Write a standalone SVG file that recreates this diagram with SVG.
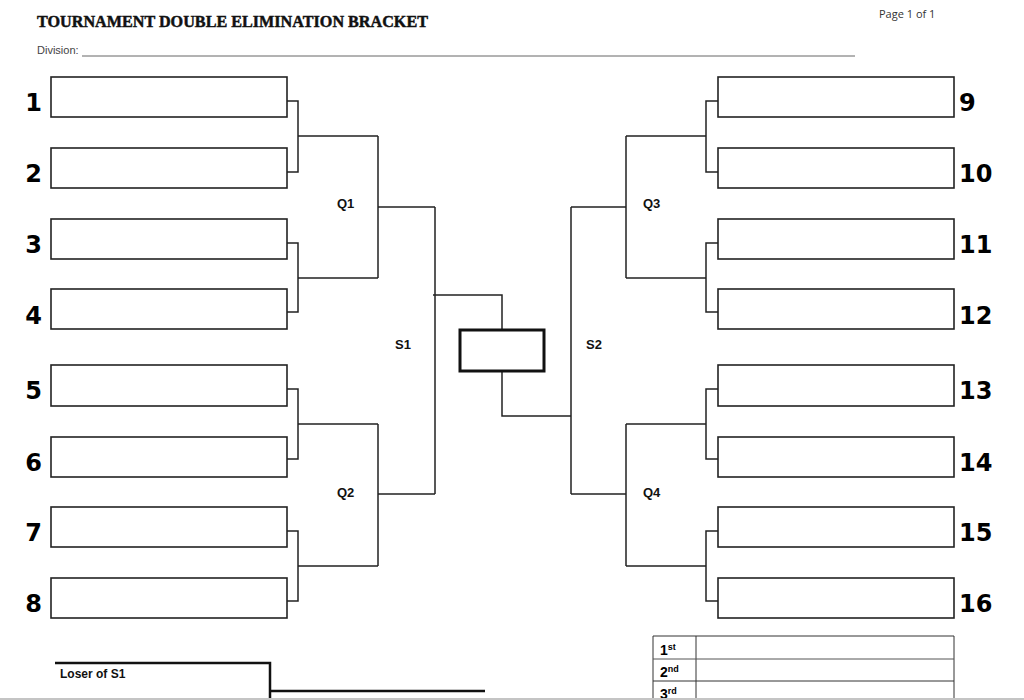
<svg xmlns="http://www.w3.org/2000/svg" width="1024" height="700" viewBox="0 0 1024 700">
<style>
.box{fill:#fff;stroke:#222;stroke-width:1.6}
.ln{fill:none;stroke:#222;stroke-width:1.5}
.num{font-family:"DejaVu Sans","Liberation Sans",Arial,sans-serif;font-weight:bold;font-size:24px;fill:#000}
.lbl{font-family:"Liberation Sans",Arial,sans-serif;font-weight:bold;font-size:13px;fill:#111}
.place{font-family:"Liberation Sans",Arial,sans-serif;font-weight:bold;font-size:14px;fill:#000}
.sup{font-size:9px}
</style>
<rect width="1024" height="700" fill="#fff"/>
<g id="header">
<text x="37" y="27" font-family="Liberation Serif,serif" font-weight="bold" font-size="17" textLength="391" lengthAdjust="spacingAndGlyphs" fill="#111" stroke="#111" stroke-width="0.5">TOURNAMENT DOUBLE ELIMINATION BRACKET</text>
<text x="37" y="54" font-family="Liberation Sans,Arial,sans-serif" font-size="11" fill="#444">Division:</text>
<line x1="82" y1="56" x2="855" y2="56" stroke="#666" stroke-width="1"/>
<text x="879" y="18" font-family="Open Sans,Liberation Sans,sans-serif" font-size="11" fill="#333">Page 1 of 1</text>
</g>
<g id="connectors">
<path class="ln" d="M287 101H298V172H287M298 136H378"/>
<path class="ln" d="M287 243H298V312H287M298 278H378"/>
<path class="ln" d="M287 389H298V459H287M298 424H378"/>
<path class="ln" d="M287 531H298V601H287M298 566H378"/>
<path class="ln" d="M378 136V278M378 207H435"/>
<path class="ln" d="M378 424V566M378 494H435"/>
<path class="ln" d="M435 207V494M433 295H502V329"/>
<path class="ln" d="M718 101H706V172H718M706 136H626"/>
<path class="ln" d="M718 243H706V312H718M706 278H626"/>
<path class="ln" d="M718 389H706V459H718M706 424H626"/>
<path class="ln" d="M718 531H706V601H718M706 566H626"/>
<path class="ln" d="M626 136V278M626 207H571"/>
<path class="ln" d="M626 424V566M626 494H571"/>
<path class="ln" d="M571 207V494M502 371V416H571"/>
</g>
<g id="final"><rect x="460" y="330" width="84" height="41" fill="#fff" stroke="#111" stroke-width="3"/></g>
<g id="left-entries">
<g id="e1"><rect class="box" x="51" y="77" width="236" height="40"/><text class="num" x="42" y="111" text-anchor="end">1</text></g>
<g id="e2"><rect class="box" x="51" y="148" width="236" height="40"/><text class="num" x="42" y="182" text-anchor="end">2</text></g>
<g id="e3"><rect class="box" x="51" y="219" width="236" height="40"/><text class="num" x="42" y="253" text-anchor="end">3</text></g>
<g id="e4"><rect class="box" x="51" y="289" width="236" height="40"/><text class="num" x="42" y="324" text-anchor="end">4</text></g>
<g id="e5"><rect class="box" x="51" y="365" width="236" height="41"/><text class="num" x="42" y="399" text-anchor="end">5</text></g>
<g id="e6"><rect class="box" x="51" y="437" width="236" height="40"/><text class="num" x="42" y="471" text-anchor="end">6</text></g>
<g id="e7"><rect class="box" x="51" y="507" width="236" height="40"/><text class="num" x="42" y="541" text-anchor="end">7</text></g>
<g id="e8"><rect class="box" x="51" y="578" width="236" height="40"/><text class="num" x="42" y="612" text-anchor="end">8</text></g>
</g>
<g id="right-entries">
<g id="e9"><rect class="box" x="718" y="77" width="236" height="40"/><text class="num" x="959" y="111">9</text></g>
<g id="e10"><rect class="box" x="718" y="148" width="236" height="40"/><text class="num" x="959" y="182">10</text></g>
<g id="e11"><rect class="box" x="718" y="219" width="236" height="40"/><text class="num" x="959" y="253">11</text></g>
<g id="e12"><rect class="box" x="718" y="289" width="236" height="40"/><text class="num" x="959" y="324">12</text></g>
<g id="e13"><rect class="box" x="718" y="365" width="236" height="41"/><text class="num" x="959" y="399">13</text></g>
<g id="e14"><rect class="box" x="718" y="437" width="236" height="40"/><text class="num" x="959" y="471">14</text></g>
<g id="e15"><rect class="box" x="718" y="507" width="236" height="40"/><text class="num" x="959" y="541">15</text></g>
<g id="e16"><rect class="box" x="718" y="578" width="236" height="40"/><text class="num" x="959" y="612">16</text></g>
</g>
<g id="round-labels">
<text class="lbl" x="337" y="208">Q1</text>
<text class="lbl" x="337" y="497">Q2</text>
<text class="lbl" x="643" y="208">Q3</text>
<text class="lbl" x="643" y="497">Q4</text>
<text class="lbl" x="395" y="349">S1</text>
<text class="lbl" x="586" y="349">S2</text>
</g>
<g id="loser">
<path d="M55 663H270V700" fill="none" stroke="#111" stroke-width="2.5"/>
<path d="M270 691H485" fill="none" stroke="#111" stroke-width="2.5"/>
<text x="60" y="678" font-family="Liberation Sans,Arial,sans-serif" font-weight="bold" font-size="12" fill="#111">Loser of S1</text>
</g>
<g id="places">
<path d="M653 700V636H954V700M696 636V700M653 681H954" fill="none" stroke="#333" stroke-width="1"/>
<path d="M653 659H954" fill="none" stroke="#555" stroke-width="1"/>
<text class="place" x="660" y="655">1<tspan class="sup" dy="-5">st</tspan></text>
<text class="place" x="660" y="677">2<tspan class="sup" dy="-5">nd</tspan></text>
<text class="place" x="660" y="699">3<tspan class="sup" dy="-5">rd</tspan></text>
</g>
<rect x="0" y="698" width="1024" height="2" fill="#c4c4c4"/>
</svg>
